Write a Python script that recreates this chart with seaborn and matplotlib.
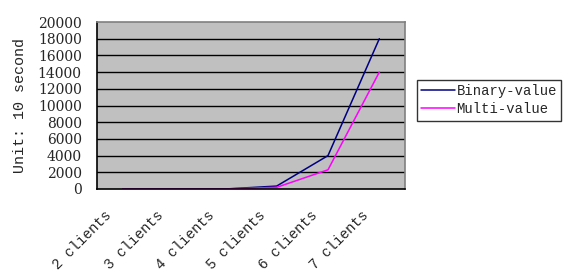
import matplotlib
matplotlib.use("Agg")
import matplotlib.pyplot as plt
import seaborn as sns
import pandas as pd
from matplotlib.ticker import FixedLocator
from matplotlib.transforms import ScaledTranslation

# data
clients = ["2 clients", "3 clients", "4 clients", "5 clients", "6 clients", "7 clients"]
binary_value = [0, 0, 0, 350, 4000, 18000]
multi_value = [0, 0, 0, 200, 2300, 14000]
y_ticks = list(range(0, 20001, 2000))

df = pd.DataFrame({
    "clients": clients * 2,
    "time": binary_value + multi_value,
    "series": ["Binary-value"] * len(clients) + ["Multi-value"] * len(clients),
})

sns.set_style("white")
plt.rcParams["font.family"] = ["Liberation Mono", "DejaVu Sans"]
plt.rcParams["font.size"] = 10.8

fig = plt.figure(figsize=(5.68, 2.75), dpi=100)
ax = fig.add_axes([97 / 568, 86 / 275, 308 / 568, 167 / 275])
ax.set_facecolor("#C0C0C0")

sns.lineplot(
    data=df,
    x="clients",
    y="time",
    hue="series",
    palette={"Binary-value": "#000080", "Multi-value": "#FF00FF"},
    linewidth=1.1,
    ax=ax,
    sort=False,
)

ax.set_xlim(-0.5, len(clients) - 0.5)
ax.set_ylim(0, 20000)

# horizontal grid lines
for v in y_ticks[1:-1]:
    ax.axhline(v, color="black", linewidth=1.0, zorder=1)

ax.set_yticks(y_ticks)
ax.set_yticklabels([str(v) for v in y_ticks], family="DejaVu Serif", fontsize=10)
ax.tick_params(axis="y", length=0, pad=11)

ax.set_xticks(range(len(clients)))
ax.set_xticklabels(clients, rotation=45, ha="right", fontsize=10.3)
ax.tick_params(axis="x", which="major", length=0, pad=13)
shift = ScaledTranslation(-8 / 100, -1 / 100, fig.dpi_scale_trans)
for lbl in ax.get_xticklabels():
    lbl.set_transform(lbl.get_transform() + shift)
ax.xaxis.set_minor_locator(FixedLocator([i + 0.5 for i in range(-1, len(clients))]))
ax.tick_params(axis="x", which="minor", direction="in", length=5, width=1, color="black")

ax.set_xlabel("")
ax.set_ylabel("Unit: 10 second", labelpad=8)

for side in ["top", "right"]:
    ax.spines[side].set_color("#808080")
    ax.spines[side].set_linewidth(1.2)
for side in ["left", "bottom"]:
    ax.spines[side].set_color("black")
    ax.spines[side].set_linewidth(1.2)

handles, labels = ax.get_legend_handles_labels()
ax.legend(
    handles,
    labels,
    loc="upper left",
    bbox_to_anchor=(417 / 568, 1 - 80 / 275),
    bbox_transform=fig.transFigure,
    frameon=True,
    fancybox=False,
    edgecolor="black",
    fontsize=10,
    handlelength=2.4,
    handletextpad=0.15,
    borderpad=0.3,
    labelspacing=0.3,
    borderaxespad=0,
)
ax.get_legend().get_frame().set_linewidth(1.0)

fig.savefig("out.png", dpi=100)
